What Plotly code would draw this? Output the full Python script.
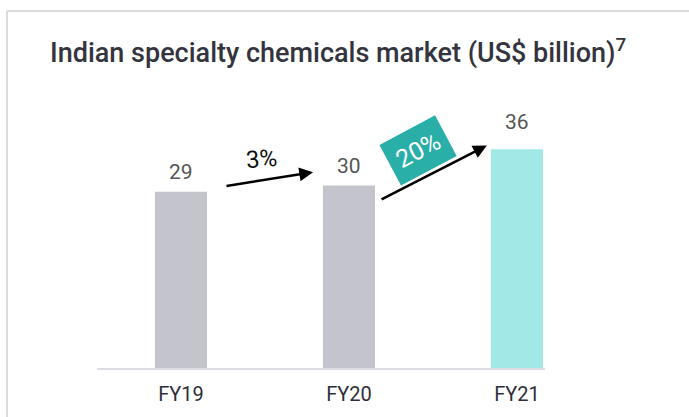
import plotly.graph_objects as go

categories = ["FY19", "FY20", "FY21"]
values = [29, 30, 36]
bar_colors = ["#c4c4cd", "#c4c4cd", "#a1e8e6"]
growth_labels = ["3%", "20%"]
label_shift = [6, 6, 13]

title_text = "Indian specialty chemicals market (US$ billion)<sup>7</sup>"
FONT = "Roboto, 'Noto Sans', sans-serif"

fig = go.Figure()
fig.add_trace(go.Bar(
    x=list(range(len(categories))),
    y=values,
    marker=dict(color=bar_colors, line=dict(width=0)),
    width=0.31,
    cliponaxis=False,
    hoverinfo="skip",
))

for i, v in enumerate(values):
    fig.add_annotation(x=i, y=v, xref="x", yref="y", showarrow=False,
                       text=str(v), yanchor="bottom", yshift=label_shift[i],
                       font=dict(family=FONT, size=21, color="#555555"))

# growth arrows (data coordinates)
fig.add_annotation(x=0.786, y=32.2, ax=0.262, ay=29.9, xref="x", yref="y",
                   axref="x", ayref="y", showarrow=True, arrowhead=2,
                   arrowsize=1.1, arrowwidth=2.5, arrowcolor="#000000", text="")
fig.add_annotation(x=1.821, y=36.6, ax=1.185, ay=27.6, xref="x", yref="y",
                   axref="x", ayref="y", showarrow=True, arrowhead=2,
                   arrowsize=1.1, arrowwidth=2.5, arrowcolor="#000000", text="")
fig.add_annotation(x=0.48, y=34.3, xref="x", yref="y", showarrow=False,
                   text=growth_labels[0], textangle=-5,
                   font=dict(family=FONT, size=24, color="#111111"))
fig.add_annotation(x=1.41, y=35.8, xref="x", yref="y", showarrow=False,
                   text=growth_labels[1], textangle=-28,
                   bgcolor="#2aaea8", borderpad=8,
                   font=dict(family=FONT, size=25, color="#ffffff"))

# card border (left and top)
fig.add_shape(type="line", xref="paper", yref="paper",
              x0=-0.2009, x1=-0.2009, y0=1.332, y1=-0.19,
              line=dict(color="#dadae0", width=2))
fig.add_shape(type="line", xref="paper", yref="paper",
              x0=-0.2009, x1=1.33, y0=1.332, y1=1.332,
              line=dict(color="#dadae0", width=2))

fig.update_layout(
    width=689, height=417,
    margin=dict(l=97, r=144, t=100, b=49),
    paper_bgcolor="#ffffff", plot_bgcolor="#ffffff",
    showlegend=False,
    title=dict(text=title_text, x=50/689, xanchor="left", xref="container",
               y=1-53/417, yanchor="middle", yref="container",
               font=dict(family=FONT, size=27, color="#34343e", weight=500)),
    xaxis=dict(range=[-0.5, 2.167], tickmode="array",
               tickvals=list(range(len(categories))), ticktext=categories,
               showgrid=False, zeroline=False, showline=True,
               linecolor="#dcdce2", linewidth=2, ticks="",
               ticklabelstandoff=7,
               tickfont=dict(family=FONT, size=20, color="#2e2e38")),
    yaxis=dict(range=[0, 44.08], visible=False),
)

fig.write_html("out.html", config={"displayModeBar": False},
               post_script="document.body.style.margin='0';document.body.style.padding='0';")
